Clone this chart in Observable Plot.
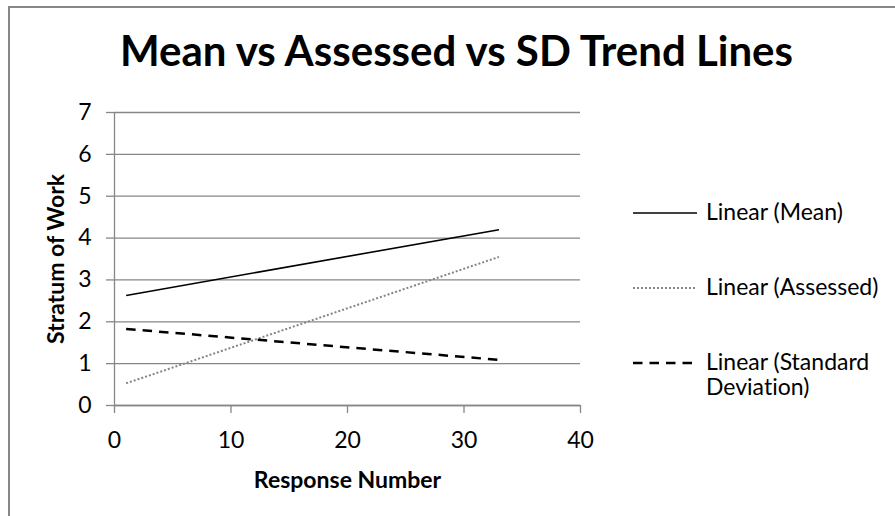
<!DOCTYPE html>
<html>
<head>
<meta charset="utf-8">
<script src="https://cdn.jsdelivr.net/npm/d3@7"></script>
<script src="https://cdn.jsdelivr.net/npm/@observablehq/plot@0.6"></script>
<style>
  html, body { margin: 0; padding: 0; background: #fff; overflow: hidden; }
  #chart { position: relative; width: 895px; height: 516px; font-family: Lato, "Open Sans", sans-serif; color: #000;
           font-variant-ligatures: none; }
  #chart svg.plot { position: absolute; left: 0; top: 0; font-variant-ligatures: none; }
  #frame { position: absolute; left: 8px; top: 6px; right: -10px; bottom: -10px;
           border-left: 2px solid #878787; border-top: 2px solid #878787; }
  #title { position: absolute; left: 8px; right: -10px; top: 25px; text-align: center;
           font-weight: bold; font-size: 42px; line-height: 50px; white-space: nowrap; }
  .legend-item { position: absolute; left: 633px; display: flex; align-items: flex-start; }
  .legend-item svg { flex: none; }
  .legend-item span { margin-left: 9px; font-size: 23px; line-height: 25px; width: 185px; }
</style>
</head>
<body>
<div id="chart">
  <div id="frame"></div>
  <div id="title">Mean vs Assessed vs SD Trend Lines</div>
</div>
<script>
// Trend-line end points (response number → stratum of work)
const responses = [1, 33];
const meanTrend = [2.63, 4.20];
const assessedTrend = [0.53, 3.55];
const sdTrend = [1.83, 1.09];

const xTicks = [0, 10, 20, 30, 40];
const yTicks = [0, 1, 2, 3, 4, 5, 6, 7];

const seriesKeys = ["mean", "assessed", "sd"];
const seriesLabels = ["Linear (Mean)", "Linear (Assessed)", "Linear (Standard Deviation)"];

// Line styling per series
const lineStyle = {
  mean:     { stroke: "#000000", strokeWidth: 1.6, dash: null },
  assessed: { stroke: "#858585", strokeWidth: 2,   dash: "2,2" },
  sd:       { stroke: "#000000", strokeWidth: 2.5, dash: "9.5,7" }
};

const rows = responses.map((r, i) => ({
  response: r,
  mean: meanTrend[i],
  assessed: assessedTrend[i],
  sd: sdTrend[i]
}));

const gray = "#878787";
const font = "Lato, 'Open Sans', sans-serif";

const plot = Plot.plot({
  width: 895,
  height: 516,
  marginLeft: 114,
  marginRight: 315,
  marginTop: 112,
  marginBottom: 111,
  x: { domain: [0, 40] },
  y: { domain: [0, 7] },
  style: { fontFamily: font, fontSize: "23px", background: "transparent", color: "#000", overflow: "visible" },
  marks: [
    Plot.gridY(yTicks, { stroke: gray, strokeOpacity: 1, strokeWidth: 1.3 }),
    Plot.ruleX([0], { stroke: gray, strokeWidth: 1.3 }),
    Plot.ruleY([0], { stroke: gray, strokeWidth: 1.3 }),
    Plot.axisY(yTicks, { tickSize: 8, tickPadding: 15, stroke: gray, strokeWidth: 1.3, strokeOpacity: 1, fill: "#000", label: null, fontSize: 23 }),
    Plot.axisX(xTicks, { tickSize: 8, tickPadding: 18, stroke: gray, strokeWidth: 1.3, strokeOpacity: 1, fill: "#000", label: null, fontSize: 23 }),
    Plot.text(["Response Number"], { frameAnchor: "bottom", textAnchor: "middle", dy: 82.5, fontWeight: "bold", fontSize: 23, fill: "#000" }),
    Plot.text(["Stratum of Work"], { frameAnchor: "left", textAnchor: "middle", rotate: -90, dx: -58, fontWeight: "bold", fontSize: 23, fill: "#000" }),
    ...seriesKeys.map(k => Plot.line(rows, {
      x: "response",
      y: k,
      stroke: lineStyle[k].stroke,
      strokeWidth: lineStyle[k].strokeWidth,
      strokeDasharray: lineStyle[k].dash,
      strokeLinecap: "butt"
    }))
  ]
});
plot.classList.add("plot");
document.getElementById("chart").appendChild(plot);

// Legend to the right of the plot
const legendTops = [198.6, 274.3, 348.6];
const chart = d3.select("#chart");
seriesKeys.forEach((k, i) => {
  const item = chart.append("div").attr("class", "legend-item").style("top", legendTops[i] + "px");
  const sw = item.append("svg").attr("width", 64).attr("height", 25);
  sw.append("line")
    .attr("x1", 0).attr("x2", 64).attr("y1", 14).attr("y2", 14)
    .attr("stroke", lineStyle[k].stroke)
    .attr("stroke-width", lineStyle[k].strokeWidth)
    .attr("stroke-dasharray", lineStyle[k].dash);
  item.append("span").text(seriesLabels[i]);
});
</script>
</body>
</html>
